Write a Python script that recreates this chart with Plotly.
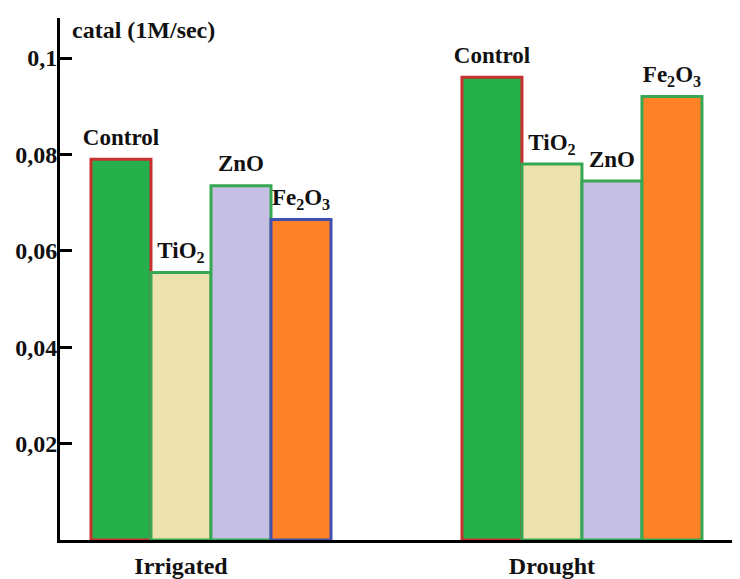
import plotly.graph_objects as go

groups = ["Irrigated", "Drought"]
treatments = ["Control", "TiO<sub>2</sub>", "ZnO", "Fe<sub>2</sub>O<sub>3</sub>"]
irrigated = [0.079, 0.0555, 0.0735, 0.0665]
drought = [0.096, 0.078, 0.0745, 0.092]
fills = ["#25b04c", "#ede2ae", "#c5bfe3", "#fd8127"]
outline_irrigated = ["#c8312f", "#36a853", "#36a853", "#4250b0"]
outline_drought = ["#c8312f", "#36a853", "#36a853", "#36a853"]
ytick_vals = [0.02, 0.04, 0.06, 0.08, 0.1]
y_title = "catal (1M/sec)"

FONT = "Liberation Serif"
FS = 24
TXT = "#111111"

fig = go.Figure()
for i, name in enumerate(treatments):
    fig.add_trace(go.Bar(
        x=groups,
        y=[irrigated[i], drought[i]],
        name=name,
        offsetgroup=str(i),
        marker=dict(color=fills[i],
                    line=dict(color=[outline_irrigated[i], outline_drought[i]], width=3)),
        hoverinfo="skip",
    ))
for i, name in enumerate(treatments):
    fig.add_trace(go.Scatter(
        x=groups,
        y=[irrigated[i], drought[i]],
        offsetgroup=str(i),
        mode="markers+text",
        marker=dict(size=12, opacity=0),
        text=[name, name],
        textposition="top center",
        cliponaxis=False,
        textfont=dict(family=FONT, size=FS - 1, color=TXT, weight="bold"),
        hoverinfo="skip",
    ))

fig.update_layout(
    width=732, height=571,
    margin=dict(l=52, r=0, t=10, b=39),
    barmode="group", bargap=0.353, bargroupgap=0,
    scattermode="group", scattergap=0.353,
    showlegend=False,
    plot_bgcolor="white", paper_bgcolor="white",
    separators=", ",
    font=dict(family=FONT, color=TXT),
    xaxis=dict(
        range=[-0.407, 1.426],
        showline=True, linewidth=3, linecolor="black",
        ticks="", showgrid=False, zeroline=False,
        tickfont=dict(family=FONT, size=FS, weight="bold", color=TXT),
        ticklabelshift=-30,
        ticklabelstandoff=2,
        automargin=False,
    ),
    yaxis=dict(
        range=[0, 0.1083],
        showline=True, linewidth=3, linecolor="black",
        ticks="inside", ticklen=12, tickwidth=3, tickcolor="black",
        tickvals=ytick_vals,
        showgrid=False, zeroline=False,
        tickfont=dict(family=FONT, size=FS, weight="bold", color=TXT),
        ticklabelstandoff=-5,
        automargin=False,
    ),
    annotations=[dict(
        text=y_title, xref="paper", yref="paper", x=0, y=1,
        xanchor="left", yanchor="top", xshift=10, yshift=3, showarrow=False,
        font=dict(family=FONT, size=FS, weight="bold", color=TXT),
    )],
)

fig.write_html("out.html")
